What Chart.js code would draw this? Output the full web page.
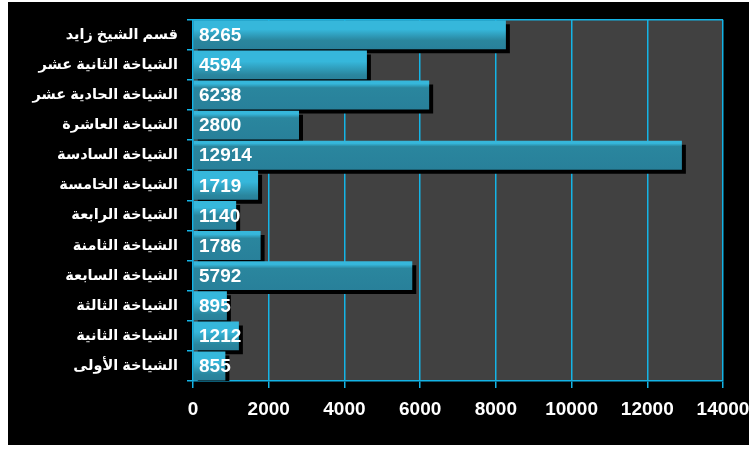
<!DOCTYPE html>
<html>
<head>
<meta charset="utf-8">
<script src="https://cdn.jsdelivr.net/npm/chart.js@4/dist/chart.umd.min.js"></script>
<style>
  html, body { margin: 0; padding: 0; background: #ffffff; }
  #wrap { position: absolute; left: 8px; top: 2px; width: 741px; height: 443px; background: #000000; }
</style>
</head>
<body>
<div id="wrap"><canvas id="sectionsChart" width="741" height="443"></canvas></div>
<script>
// البيانات
const sections = [
    'قسم الشيخ زايد',
    'الشياخة الثانية عشر',
    'الشياخة الحادية عشر',
    'الشياخة العاشرة',
    'الشياخة السادسة',
    'الشياخة الخامسة',
    'الشياخة الرابعة',
    'الشياخة الثامنة',
    'الشياخة السابعة',
    'الشياخة الثالثة',
    'الشياخة الثانية',
    'الشياخة الأولى'
];
const counts = [8265, 4594, 6238, 2800, 12914, 1719, 1140, 1786, 5792, 895, 1212, 855];
const xTicks = [0, 2000, 4000, 6000, 8000, 10000, 12000, 14000];

// how far down each bar the light top band reaches (style only)
const sheen = [0.7, 0.85, 0.25, 0.25, 0.2, 0.85, 0.5, 0.25, 0.25, 0.8, 0.8, 0.8];

const cyan = '#14b4e6';
const lightBar = '#36b7db';
const darkBar = '#2a869e';
const fontFamily = "Arial, 'Liberation Sans', 'DejaVu Sans', sans-serif";
const barPct = 0.96;

function barColor(c) {
    const chart = c.chart;
    const yScale = chart.scales.y;
    if (!chart.chartArea || !yScale) return lightBar;
    const step = Math.abs(yScale.getPixelForValue(1) - yScale.getPixelForValue(0));
    const center = yScale.getPixelForValue(c.dataIndex);
    const top = center - step * barPct / 2;
    const bottom = center + step * barPct / 2;
    const g = chart.ctx.createLinearGradient(0, top, 0, bottom);
    const f = sheen[c.dataIndex] || 0.3;
    g.addColorStop(0, lightBar);
    g.addColorStop(f * 0.45, lightBar);
    g.addColorStop(f, darkBar);
    g.addColorStop(1, '#28809a');
    return g;
}

// plot area fill + top border
const plotBackground = {
    id: 'plotBackground',
    beforeDraw(chart) {
        const { ctx, chartArea: a } = chart;
        ctx.save();
        ctx.fillStyle = '#414141';
        ctx.fillRect(a.left, a.top, a.right - a.left, a.bottom - a.top);
        ctx.restore();
    },
    afterDraw(chart) {
        const { ctx, chartArea: a } = chart;
        ctx.save();
        ctx.strokeStyle = cyan;
        ctx.lineWidth = 1.5;
        ctx.beginPath();
        ctx.moveTo(a.left, a.top);
        ctx.lineTo(a.right, a.top);
        ctx.stroke();
        ctx.restore();
    }
};

// hard black drop shadow under bars, then value labels
const barShadow = {
    id: 'barShadow',
    beforeDatasetsDraw(chart) {
        const ctx = chart.ctx;
        ctx.save();
        ctx.shadowColor = '#000000';
        ctx.shadowOffsetX = 4;
        ctx.shadowOffsetY = 4;
        ctx.shadowBlur = 0;
    },
    afterDatasetsDraw(chart) {
        const ctx = chart.ctx;
        ctx.restore();
        const meta = chart.getDatasetMeta(0);
        ctx.save();
        ctx.fillStyle = '#ffffff';
        ctx.font = 'bold 19px ' + fontFamily;
        ctx.textAlign = 'left';
        ctx.textBaseline = 'middle';
        meta.data.forEach((bar, i) => {
            ctx.fillText(String(counts[i]), chart.chartArea.left + 6, bar.y + 1);
        });
        ctx.restore();
    }
};

const ctxSections = document.getElementById('sectionsChart').getContext('2d');
new Chart(ctxSections, {
    type: 'bar',
    data: {
        labels: sections,
        datasets: [{
            data: counts,
            backgroundColor: barColor,
            borderWidth: 0,
            barPercentage: barPct,
            categoryPercentage: 1
        }]
    },
    options: {
        indexAxis: 'y',
        responsive: false,
        devicePixelRatio: 1,
        animation: false,
        layout: { padding: { top: 17, right: 26, left: 0, bottom: 0 } },
        scales: {
            x: {
                min: 0,
                max: 14000,
                afterBuildTicks(scale) {
                    scale.ticks = xTicks.map(v => ({ value: v }));
                },
                afterFit(scale) {
                    scale.height = 64;
                    scale.paddingLeft = 0;
                    scale.paddingRight = 0;
                },
                grid: {
                    color: cyan,
                    lineWidth: 1.5,
                    tickLength: 7,
                    tickColor: cyan
                },
                border: { color: cyan, width: 1.5 },
                ticks: {
                    color: '#ffffff',
                    font: { family: fontFamily, size: 19, weight: 'bold' },
                    padding: 10,
                    maxRotation: 0,
                    autoSkip: false,
                    callback: v => String(v)
                }
            },
            y: {
                afterFit(scale) { scale.width = 185; },
                grid: {
                    drawOnChartArea: false,
                    color: cyan,
                    lineWidth: 1.5,
                    tickLength: 6
                },
                border: { color: cyan, width: 1.5 },
                ticks: {
                    color: '#ffffff',
                    font: { family: fontFamily, size: 14.5, weight: 'bold' },
                    padding: 9,
                    autoSkip: false
                }
            }
        },
        plugins: {
            legend: { display: false },
            tooltip: { enabled: false }
        }
    },
    plugins: [plotBackground, barShadow]
});
</script>
</body>
</html>
